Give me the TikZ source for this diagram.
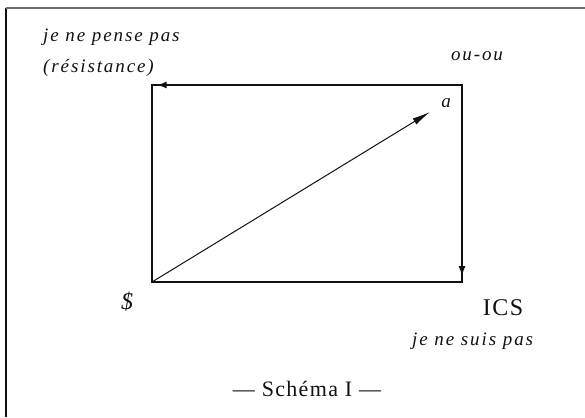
\documentclass[tikz,border=0pt]{standalone}
\usepackage{fontspec}
\setmainfont{Liberation Serif}
\newfontfamily\labelfont{Liberation Serif}[LetterSpace=10]
\newfontfamily\titlefont{Liberation Serif}[LetterSpace=6]
\usetikzlibrary{arrows.meta,decorations.markings}
\definecolor{ink}{HTML}{111111}
\definecolor{framegray}{HTML}{6E6E6E}
\tikzset{
  itlabel/.style={font=\labelfont\itshape\fontsize{19}{22}\selectfont, inner sep=0pt, text=ink},
  rmlabel/.style={font=\titlefont\fontsize{24}{28}\selectfont, inner sep=0pt, text=ink},
  side/.style={draw=ink, line width=1.6pt, line cap=rect},
  endarrow/.style={postaction={decorate}, decoration={markings, mark=at position #1 with {\arrow{Latex[length=10pt,width=7pt]}}}},
  vector/.style={draw=ink, line width=1pt, -{Latex[length=18pt,width=7pt]}},
  frameline/.style={line width=1.5pt}
}

\begin{document}
\begin{tikzpicture}[x=1pt, y=-1pt]
  \useasboundingbox (0,0) rectangle (585,417);
  \draw[frameline, draw=ink] (6,417) -- (6,8);
  \draw[frameline, draw=framegray] (6,8) -- (585,8);

  \coordinate (S) at (152,282);
  \coordinate (tl) at (152,85);
  \coordinate (tr) at (462,85);
  \coordinate (br) at (462,282);
  \coordinate (a) at (430,112);

  \node[itlabel, anchor=base west] (pense) at (43,42) {je ne pense pas};
  \node[itlabel, anchor=base west] (resist) at (43,73) {(résistance)};
  \node[itlabel, anchor=base] (ouou) at (477,61) {ou-ou};
  \node[itlabel, anchor=base] (alabel) at (446,107) {a};
  \node[itlabel, font=\labelfont\itshape\fontsize{24}{28}\selectfont] (barS) at (127,302) {\$};
  \node[rmlabel, anchor=base] (ics) at (503,315) {ICS};
  \node[itlabel, anchor=base west] (suis) at (412,345) {je ne suis pas};
  \node[rmlabel, font=\titlefont\fontsize{22}{26}\selectfont, anchor=base] (schema) at (307,396) {— Schéma I —};

  \draw[side] (tl) -- (S) -- (br);
  \draw[side, endarrow=0.985] (tr) -- (tl);
  \draw[side, endarrow=0.97] (tr) -- (br);
  \draw[vector] (S) -- (a);
\end{tikzpicture}
\end{document}
